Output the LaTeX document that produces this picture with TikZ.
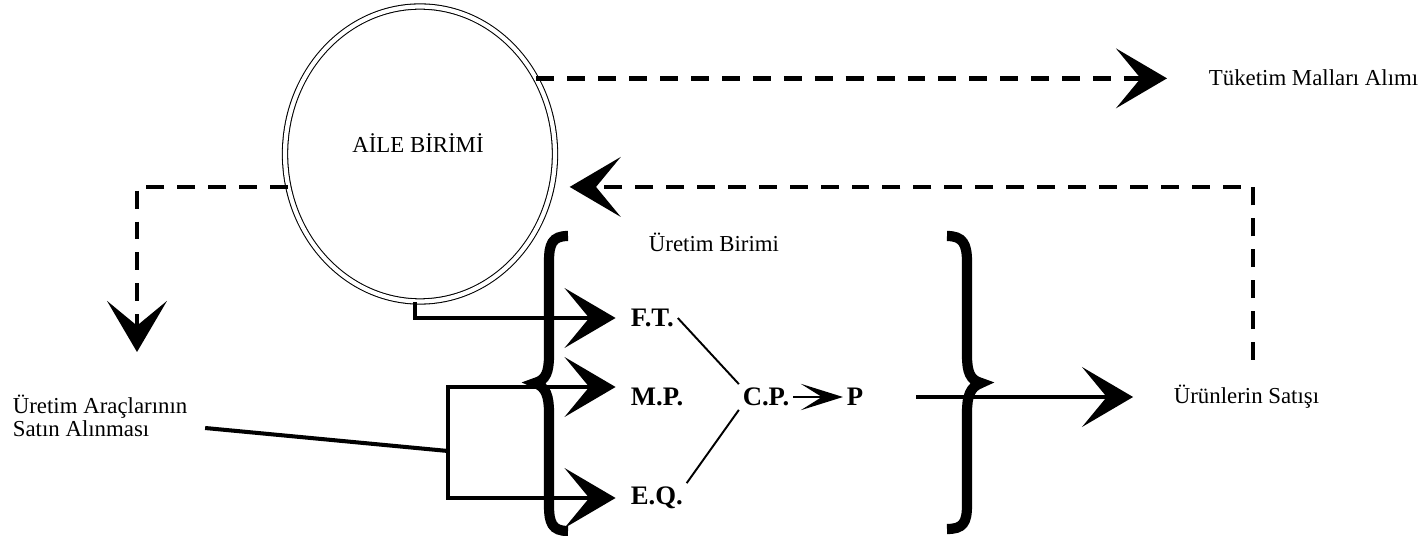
\documentclass[tikz,border=0pt]{standalone}
\usepackage{fontspec}
\setmainfont{Liberation Serif}
\usetikzlibrary{arrows.meta,shapes.geometric,calc}

\begin{document}
\begin{tikzpicture}[x=0.02cm,y=-0.02cm,
    txt/.style={font=\fontsize{13}{10.5}\selectfont, inner sep=2pt},
    lbl/.style={font=\fontsize{15.2}{17}\selectfont\bfseries, inner sep=2pt},
    bigtip/.tip={Stealth[length=29pt,width=34pt,inset=14pt]},
    smalltip/.tip={Stealth[length=24pt,width=15pt,inset=12pt]},
    dashline/.style={line width=2.7pt, dash pattern=on 10.2pt off 7.4pt, -bigtip},
    solidline/.style={line width=2.3pt, -bigtip},
    thinline/.style={line width=1.1pt},
    bracestroke/.style={line width=5.8pt}]
    \useasboundingbox (0,0) rectangle (1427,536);

    \node[draw, ellipse, double, double distance=2.4pt, line width=0.6pt,
          minimum width=5.4cm, minimum height=5.9cm, inner sep=0] (circ) at (420,154) {};
    \node[txt] (aile) at (418,143) {AİLE BİRİMİ};

    \node[txt, anchor=west] (tm) at (1205,78) {Tüketim Malları Alımı};
    \node[txt] (ub) at (714,242) {Üretim Birimi};
    \node[txt, anchor=west] (us) at (1170,397) {Ürünlerin Satışı};
    \node[txt, anchor=west, align=left] (uaa) at (9,416) {Üretim Araçlarının\\Satın Alınması};

    \foreach \name/\lab/\y in {ft/F.T./318, mp/M.P./397, eq/E.Q./498}
      \node[lbl, anchor=west] (\name) at (627,\y) {\lab};
    \node[lbl] (cp) at (766,397) {C.P.};
    \node[lbl] (p) at (855,397) {P};

    % braces
    \draw[bracestroke] (568,236) .. controls (552,236) and (549,244) .. (549,262) -- (549,355)
      .. controls (549,372) and (546,380) .. (535,383) .. controls (546,387) and (549,396) .. (549,413)
      -- (549,505) .. controls (549,523) and (552,531) .. (568,531);
    \draw[bracestroke] (947,236) .. controls (963,236) and (967,244) .. (967,262) -- (967,355)
      .. controls (967,372) and (970,380) .. (981,383) .. controls (970,387) and (967,396) .. (967,413)
      -- (967,505) .. controls (967,523) and (963,529) .. (947,529);

    % dashed flows
    \coordinate (tmtip) at (1167,78);
    \coordinate (lefttip) at (137,352);
    \coordinate (rstart) at (1253,360);
    \draw[dashline] (circ.33) -- (circ.33 -| tmtip);
    \draw[dashline] (circ.194) -| (lefttip);
    \draw[dashline, shorten >=10pt] (rstart) |- (circ.-14);

    % production
    \coordinate (br) at (448,451);
    \draw[solidline, shorten >=6.5pt] (circ.268) |- (ft.west);
    \draw[line width=2.3pt] ($(uaa.east)+(14,12)$) -- (br);
    \draw[solidline, shorten >=6.5pt] (br) |- ($(mp.west)+(0,-10)$);
    \draw[solidline, shorten >=6.5pt] (br) |- (eq.west);
    \draw[thinline] (ft.east) -- (cp.north west);
    \draw[thinline] (eq.north east) -- (cp.south west);
    \draw[line width=1.4pt, -smalltip] (cp.east) -- (p.west);
    \draw[solidline, shorten <=28pt, shorten >=21pt] (p.east) -- (us.west);
\end{tikzpicture}
\end{document}
